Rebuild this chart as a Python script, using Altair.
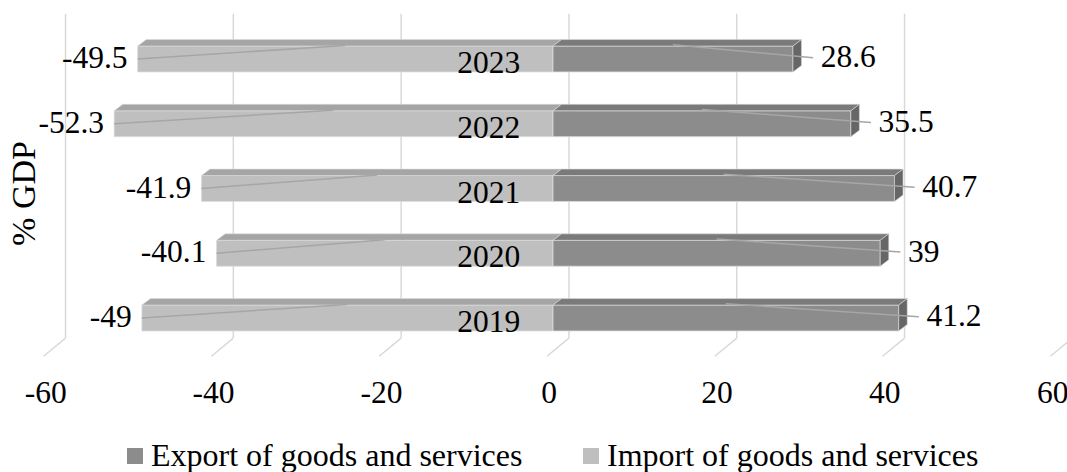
import altair as alt
import pandas as pd

# ---- data ----
years = [2019, 2020, 2021, 2022, 2023]
export_vals = [41.2, 39, 40.7, 35.5, 28.6]
import_vals = [-49, -40.1, -41.9, -52.3, -49.5]
ticks = [-60, -40, -20, 0, 20, 40, 60]
series_names = ["Export of goods and services", "Import of goods and services"]

# ---- styling / 3D geometry (in scale units) ----
FONT = "Liberation Serif"
FS = 31.5
HALF = 0.2        # half bar thickness (row units)
DX = 1.02         # depth shift in x units
DY = 0.10         # depth shift in row units
BACK = 1.9        # back wall shift in x units
FLOOR_FRONT = -0.72
FLOOR_Y_BACK = -0.31
FLOOR_Y_FRONT = -0.59
TOP_Y = 4.70

XDOM = [-65.91, 61.26]
YDOM = [-2.378, 4.911]
xs = alt.Scale(domain=XDOM, nice=False, zero=False)
ys = alt.Scale(domain=YDOM, nice=False, zero=False)

front_rows, top_rows, side_rows, lead_rows, lab_rows, year_rows = [], [], [], [], [], []
for i, (yr, ev, iv) in enumerate(zip(years, export_vals, import_vals)):
    year_rows.append({"i": i, "year": str(yr)})
    for name, v in ((series_names[0], ev), (series_names[1], iv)):
        key = f"{yr}-{name[:3]}"
        lo, hi = min(0, v), max(0, v)
        front_rows.append({"series": name, "x": lo, "x2": hi, "y": i - HALF, "y2": i + HALF})
        topc = "#7a7a7a" if name == series_names[0] else "#a5a5a5"
        top_rows.append({"key": key, "ser": name[:3], "fill": topc, "y": i + HALF, "x": lo, "x2": hi})
        top_rows.append({"key": key, "ser": name[:3], "fill": topc, "y": i + HALF + DY, "x": lo + DX, "x2": hi + DX})
        if v > 0:
            side_rows.append({"key": key, "x": v, "y": i - HALF, "y2": i + HALF})
            side_rows.append({"key": key, "x": v + DX, "y": i - HALF + DY, "y2": i + HALF + DY})
            lead_rows.append({"x": v / 2, "y": i + HALF + 0.02, "x2": v + 2.4, "y2": i + 0.02})
            lab_rows.append({"x": v + 3.3, "y": i + 0.01, "t": f"{v:g}", "al": "left"})
        else:
            lead_rows.append({"x": v, "y": i, "x2": v / 2, "y2": i + HALF + 0.01})
            lab_rows.append({"x": v - 1.2, "y": i, "t": f"{v:g}", "al": "right"})

front = pd.DataFrame(front_rows)
tops = pd.DataFrame(top_rows)
sides = pd.DataFrame(side_rows)
leads = pd.DataFrame(lead_rows)
labs = pd.DataFrame(lab_rows)
yrs = pd.DataFrame(year_rows)
grid = pd.DataFrame({"t": ticks})
grid["xb"] = grid["t"] + BACK
grid["xf"] = grid["t"] + FLOOR_FRONT
grid["yb"] = FLOOR_Y_BACK
grid["yf"] = FLOOR_Y_FRONT
grid["ytop"] = TOP_Y
grid["lx"] = grid["t"] - 0.45
grid["ly"] = -1.17
grid["lab"] = grid["t"].astype(str)

GRID_C = "#d9d9d9"

gridv = alt.Chart(grid).mark_rule(color=GRID_C, strokeWidth=1.5).encode(
    x=alt.X("xb:Q", scale=xs, axis=None),
    y=alt.Y("yb:Q", scale=ys, axis=alt.Axis(title="% GDP", labels=False, ticks=False, domain=False, grid=False,
                                            titleFont=FONT, titleFontSize=34, titleFontWeight="normal",
                                            titleColor="black", titleAngle=270, titleX=24, titleY=193,
                                            titleAlign="center", titleBaseline="middle")),
    y2="ytop:Q",
)
gridd = alt.Chart(grid).mark_rule(color=GRID_C, strokeWidth=1.5).encode(
    x=alt.X("xb:Q", scale=xs), x2="xf:Q", y=alt.Y("yb:Q", scale=ys), y2="yf:Q"
)
ticklab = alt.Chart(grid).mark_text(font=FONT, fontSize=FS, color="black", baseline="middle", align="center").encode(
    x=alt.X("lx:Q", scale=xs), y=alt.Y("ly:Q", scale=ys), text="lab:N"
)

color_scale = alt.Scale(domain=series_names, range=["#8c8c8c", "#bfbfbf"])
imp_front = alt.Chart(front[front.series == series_names[1]]).mark_rect(stroke="#dcdcdc", strokeWidth=0.8).encode(
    x=alt.X("x:Q", scale=xs), x2="x2:Q", y=alt.Y("y:Q", scale=ys), y2="y2:Q",
    color=alt.Color("series:N", scale=color_scale,
                    legend=alt.Legend(title=None, orient="none", direction="horizontal", columns=2,
                                      legendX=119, legendY=440, symbolType="square", symbolSize=256,
                                      symbolStrokeWidth=0, labelFont=FONT, labelFontSize=32,
                                      labelColor="black", labelLimit=600, labelOffset=0,
                                      columnPadding=52, padding=0)),
)
exp_front = alt.Chart(front[front.series == series_names[0]]).mark_rect(stroke="#dcdcdc", strokeWidth=0.8).encode(
    x=alt.X("x:Q", scale=xs), x2="x2:Q", y=alt.Y("y:Q", scale=ys), y2="y2:Q",
    color=alt.Color("series:N", scale=color_scale),
)
imp_top = alt.Chart(tops[tops.ser == "Imp"]).mark_area(orient="horizontal", stroke="#dcdcdc", strokeWidth=0.6).encode(
    y=alt.Y("y:Q", scale=ys), x=alt.X("x:Q", scale=xs), x2="x2:Q",
    fill=alt.Fill("fill:N", scale=None), detail="key:N",
)
exp_top = alt.Chart(tops[tops.ser == "Exp"]).mark_area(orient="horizontal", stroke="#dcdcdc", strokeWidth=0.6).encode(
    y=alt.Y("y:Q", scale=ys), x=alt.X("x:Q", scale=xs), x2="x2:Q",
    fill=alt.Fill("fill:N", scale=None), detail="key:N",
)
exp_side = alt.Chart(sides).mark_area(orient="vertical", color="#666666", stroke="#dcdcdc", strokeWidth=0.6).encode(
    x=alt.X("x:Q", scale=xs), y=alt.Y("y:Q", scale=ys), y2="y2:Q", detail="key:N",
)
leaders = alt.Chart(leads).mark_rule(color="#a6a6a6", strokeWidth=1.5).encode(
    x=alt.X("x:Q", scale=xs), x2="x2:Q", y=alt.Y("y:Q", scale=ys), y2="y2:Q"
)
lab_l = alt.Chart(labs[labs.al == "left"]).mark_text(font=FONT, fontSize=FS, color="black", align="left", baseline="middle").encode(
    x=alt.X("x:Q", scale=xs), y=alt.Y("y:Q", scale=ys), text="t:N"
)
lab_r = alt.Chart(labs[labs.al == "right"]).mark_text(font=FONT, fontSize=FS, color="black", align="right", baseline="middle").encode(
    x=alt.X("x:Q", scale=xs), y=alt.Y("y:Q", scale=ys), text="t:N"
)
yrs["x"] = -3.9
yrs["yy"] = yrs["i"] - 0.08
yearlab = alt.Chart(yrs).mark_text(font=FONT, fontSize=FS, color="black", align="right", baseline="middle").encode(
    x=alt.X("x:Q", scale=xs), y=alt.Y("yy:Q", scale=ys), text="year:N"
)

chart = alt.layer(
    gridv, gridd, ticklab, imp_front, imp_top, exp_front, exp_top, exp_side, leaders, lab_l, lab_r, yearlab
).properties(
    width=1067, height=472, autosize=alt.AutoSizeParams(type="none"), padding=0, background="white"
).configure_view(stroke=None)

chart.save("out.html", embed_options={"renderer": "svg", "actions": False})
